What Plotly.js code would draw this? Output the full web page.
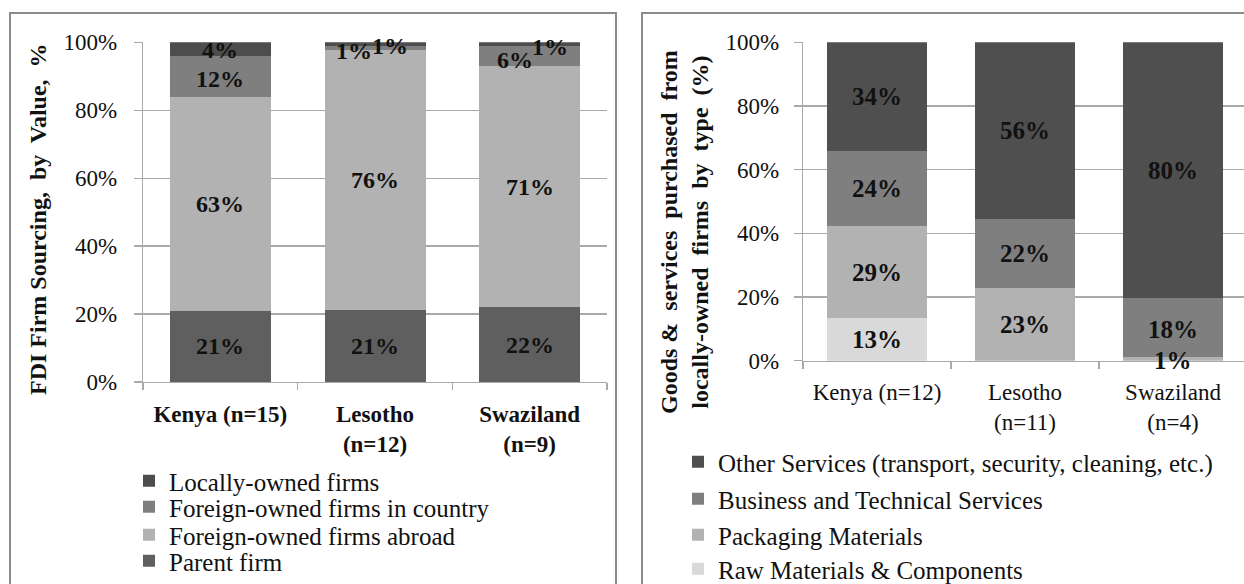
<!DOCTYPE html>
<html><head><meta charset="utf-8">
<script src="https://cdn.plot.ly/plotly-3.0.1.min.js"></script>
<style>html,body{margin:0;padding:0;background:#fff}#chart{width:1244px;height:584px}</style>
</head><body><div id="chart"></div>
<script>
// ---------- Data: left chart (FDI firm sourcing by value, %) ----------
const leftCategories = ['Kenya (n=15)', 'Lesotho<br>(n=12)', 'Swaziland<br>(n=9)'];
const parentFirm       = [21, 21.3, 22];
const foreignAbroad    = [63, 76.4, 71];
const foreignInCountry = [12, 1.3, 6];
const locallyOwned     = [4, 1.0, 1];
const leftSeriesNames = ['Parent firm', 'Foreign-owned firms abroad', 'Foreign-owned firms in country', 'Locally-owned firms'];

// ---------- Data: right chart (goods & services from locally-owned firms, %) ----------
const rightCategories = ['Kenya (n=12)', 'Lesotho<br>(n=11)', 'Swaziland<br>(n=4)'];
const rawMaterials  = [13.3, null, null];
const packaging     = [29, 22.8, 1.2];
const businessTech  = [23.7, 21.6, 18.4];
const otherServices = [34, 55.6, 80.4];
const rightSeriesNames = ['Raw Materials & Components', 'Packaging Materials', 'Business and Technical Services', 'Other Services (transport, security, cleaning, etc.)'];

const yTickVals = [0, 20, 40, 60, 80, 100];

// ---------- Styling ----------
const W = 1244, H = 584;
const px = v => v / W;
const py = v => 1 - v / H;
const FONT = 'Liberation Serif, Times New Roman, serif';
const GRID = '#a9a9a9';
const TXT = '#111111';

const leftColors  = ['#5f5f5f', '#b2b2b2', '#7f7f7f', '#4d4d4d'];
const rightColors = ['#d9d9d9', '#b2b2b2', '#7f7f7f', '#4f4f4f'];
// manual label nudges (px) for crowded small segments, [dx, dy] per category
const leftNudges = [
  [[0,0],[0,0],[0,0]],
  [[0,0],[0,0],[0,0]],
  [[0,-3],[-21,-3],[-15,-4]],
  [[0,-1],[15,-2],[20,-3]]
];
const rightNudges = [
  [[0,0],[0,0],[0,0]],
  [[0,0],[0,0],[0,-2]],
  [[0,0],[0,0],[0,-2]],
  [[0,0],[0,0],[0,0]]
];

const leftSeries  = [parentFirm, foreignAbroad, foreignInCountry, locallyOwned];
const rightSeries = [rawMaterials, packaging, businessTech, otherServices];

const traces = [];
leftSeries.forEach((s, k) => {
  traces.push({
    type: 'bar', x: leftCategories, y: s, name: leftSeriesNames[k],
    xaxis: 'x', yaxis: 'y', width: 0.653,
    marker: {color: leftColors[k], line: {width: 0}},
    legend: ['legend4', 'legend3', 'legend2', 'legend'][k],
    hoverinfo: 'skip'
  });
});
rightSeries.forEach((s, k) => {
  traces.push({
    type: 'bar', x: rightCategories, y: s, name: rightSeriesNames[k],
    xaxis: 'x2', yaxis: 'y2', width: 0.669,
    marker: {color: rightColors[k], line: {width: 0}},
    legend: ['legend8', 'legend7', 'legend6', 'legend5'][k],
    hoverinfo: 'skip'
  });
});

function makeLabels(cats, series, xref, yref, size, nudges) {
  const out = [];
  cats.forEach((c, i) => {
    let base = 0;
    series.forEach((s, k) => {
      const v = s[i];
      if (v === null || v === undefined) return;
      const mid = base + v / 2;
      base += v;
      out.push({
        x: c, y: mid, xref: xref, yref: yref, text: Math.round(v) + '%',
        showarrow: false, xanchor: 'center', yanchor: 'middle',
        xshift: nudges[k][i][0], yshift: nudges[k][i][1],
        font: {family: FONT, size: size, color: TXT, weight: 'bold'}
      });
    });
  });
  return out;
}

const annotations = [
  ...makeLabels(leftCategories, leftSeries, 'x', 'y', 24, leftNudges),
  ...makeLabels(rightCategories, rightSeries, 'x2', 'y2', 25, rightNudges),
  {
    xref: 'paper', yref: 'paper', x: px(38), y: py(219), textangle: -90,
    text: 'FDI Firm Sourcing,\u00a0 by\u00a0 Value,\u00a0 %', showarrow: false,
    xanchor: 'center', yanchor: 'middle',
    font: {family: FONT, size: 24, color: TXT, weight: 'bold'}
  },
  {
    xref: 'paper', yref: 'paper', x: px(684), y: py(232), textangle: -90,
    text: 'Goods &\u00a0 services\u00a0 purchased\u00a0 from<br>locally-owned\u00a0 firms\u00a0 by\u00a0 type\u00a0 (%)', showarrow: false,
    xanchor: 'center', yanchor: 'middle',
    font: {family: FONT, size: 24, color: TXT, weight: 'bold'}
  }
];

function legendAt(x, y) {
  return {x: px(x), xanchor: 'left', y: py(y), yanchor: 'middle',
    bgcolor: 'rgba(0,0,0,0)', borderwidth: 0,
    font: {family: FONT, size: 25, color: TXT}};
}

const axisCommonY = {
  range: [0, 100], tickvals: yTickVals, ticktext: yTickVals.map(v => v + '%'),
  showgrid: true, gridcolor: GRID, gridwidth: 1.3,
  showline: true, linecolor: GRID, linewidth: 1.3,
  ticks: 'outside', ticklen: 8, tickcolor: GRID, tickwidth: 1.3,
  zeroline: false, fixedrange: true,
  tickfont: {family: FONT, size: 23, color: TXT}
};
const axisCommonX = {
  type: 'category', tickson: 'boundaries', ticks: 'outside', ticklen: 7,
  tickcolor: GRID, tickwidth: 1.3, showline: true, linecolor: GRID, linewidth: 1.3,
  showgrid: false, fixedrange: true
};

const layout = {
  width: W, height: H, margin: {l: 0, r: 0, t: 0, b: 0, autoexpand: false},
  paper_bgcolor: '#ffffff', plot_bgcolor: 'rgba(0,0,0,0)',
  barmode: 'stack', showlegend: true,
  xaxis: Object.assign({}, axisCommonX, {
    domain: [px(143), px(607)], range: [-0.5, 2.5], anchor: 'y',
    ticklabelstandoff: 11,
    tickfont: {family: FONT, size: 23, color: TXT, weight: 'bold'}
  }),
  yaxis: Object.assign({}, axisCommonY, {
    domain: [py(382), py(42.3)], anchor: 'x', ticklabelstandoff: 12
  }),
  xaxis2: Object.assign({}, axisCommonX, {
    domain: [px(803), 1], range: [-0.5, -0.5 + 441 / 148], anchor: 'y2',
    ticklabelstandoff: 10,
    tickfont: {family: FONT, size: 23, color: TXT}
  }),
  yaxis2: Object.assign({}, axisCommonY, {
    domain: [py(360.7), py(42.3)], anchor: 'x2', ticklabelstandoff: 10
  }),
  legend:  legendAt(129, 481),
  legend2: legendAt(129, 507),
  legend3: legendAt(129, 535),
  legend4: legendAt(129, 561),
  legend5: legendAt(678, 462),
  legend6: legendAt(678, 499),
  legend7: legendAt(678, 535),
  legend8: legendAt(678, 569),
  annotations: annotations,
  shapes: [
    {type: 'rect', xref: 'paper', yref: 'paper', x0: px(10), x1: px(616), y0: -0.1, y1: py(13),
     line: {color: '#8c8c8c', width: 2}, fillcolor: 'rgba(0,0,0,0)', layer: 'below'},
    {type: 'rect', xref: 'paper', yref: 'paper', x0: px(642), x1: 1.1, y0: -0.1, y1: py(13),
     line: {color: '#8c8c8c', width: 2}, fillcolor: 'rgba(0,0,0,0)', layer: 'below'}
  ]
};

Plotly.newPlot('chart', traces, layout, {displayModeBar: false, staticPlot: true});
</script>
</body></html>
